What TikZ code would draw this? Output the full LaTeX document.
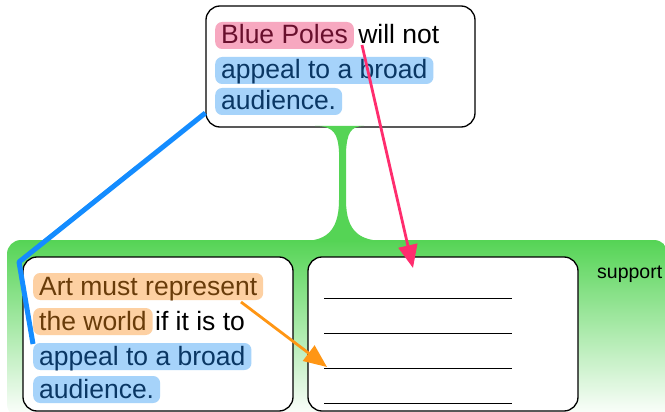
\documentclass[tikz,border=0pt]{standalone}
\usepackage{fontspec}
\setmainfont{Liberation Sans}
\usetikzlibrary{arrows.meta,positioning}

\definecolor{argGreen}{RGB}{85,212,85}
\definecolor{hlPink}{RGB}{247,168,192}
\definecolor{txPink}{RGB}{105,15,45}
\definecolor{hlBlue}{RGB}{166,211,250}
\definecolor{txBlue}{RGB}{10,55,100}
\definecolor{hlOrange}{RGB}{253,208,162}
\definecolor{txOrange}{RGB}{105,60,10}
\definecolor{linkBlue}{RGB}{20,140,255}
\definecolor{arrPink}{RGB}{255,45,110}
\definecolor{arrOrange}{RGB}{255,150,20}

\newcommand{\argfont}{\fontsize{26.5}{32}\selectfont}

\tikzset{
  card/.style={draw=black, line width=1.3pt, fill=white, rounded corners=14pt, inner sep=0pt},
  group/.style={rounded corners=14pt, top color=argGreen, bottom color=white, inner sep=0pt},
  hilite/.style={rounded corners=7pt, inner xsep=6pt, inner ysep=3pt, text height=19pt, text depth=2pt, anchor=base west, font=\argfont},
  hlpink/.style={hilite, fill=hlPink, text=txPink},
  hlblue/.style={hilite, fill=hlBlue, text=txBlue},
  hlorange/.style={hilite, fill=hlOrange, text=txOrange},
  plain/.style={inner sep=0pt, anchor=base west, font=\argfont},
  blank/.style={line width=1pt},
  pointer/.style={line width=2.8pt, -{Triangle[length=23pt,width=19pt]}}
}

\begin{document}
\begin{tikzpicture}[x=1pt,y=-1pt]
  \useasboundingbox (0,0) rectangle (665,412);
  \clip (0,0) rectangle (665,412);

  % green group with its stem
  \node[group, minimum width=661pt, minimum height=178pt] (grp) at (337.5,329) {};
  \node[card, minimum width=269pt, minimum height=121pt] (claim) at (340.5,66.5) {};
  \fill[argGreen] (315,126) .. controls (334,126) and (338,134) .. (339,152)
    -- (339,200) .. controls (339,233) and (324,241) .. (302,241)
    -- (386,241) .. controls (361,241) and (346,233) .. (346,200)
    -- (346,152) .. controls (347,134) and (350,126) .. (364,126) -- cycle;
  \node[font=\fontsize{19.5}{22}\selectfont, inner sep=0pt, anchor=base west] (sup) at (597,278) {support};

  % premises
  \node[card, minimum width=270pt, minimum height=154pt] (reason) at (158,334) {};
  \node[card, minimum width=270pt, minimum height=154pt] (other) at (443,334) {};
  \foreach \y in {298,333,368,403}
    \draw[blank] (324,\y) -- (512,\y);

  % claim text
  \node[hlpink] (bp) at (215,44) {Blue Poles};
  \node[plain] (wn) at ([xshift=4pt]bp.base east) {will not};
  \node[hlblue] (ca) at (215,79) {appeal to a broad};
  \node[hlblue] (cb) at (215,110) {audience.};

  % reason text
  \node[hlorange] (ra) at (33,295) {Art must represent};
  \node[hlorange] (rb) at (33,330) {the world};
  \node[plain] (rc) at ([xshift=2pt]rb.base east) {if it is to};
  \node[hlblue] (rd) at (33,365) {appeal to a broad};
  \node[hlblue] (re) at (33,398) {audience.};

  % links
  \coordinate (linkBend) at (19,262);
  \coordinate (linkEnd) at (33,344);
  \draw[linkBlue, line width=5pt, line join=round] (claim.west |- 0,113) -- (linkBend) -- (linkEnd);
  \coordinate (pinkFrom) at (362,45);
  \coordinate (pinkTo) at (413,268);
  \draw[pointer, arrPink] (pinkFrom) -- (pinkTo);
  \coordinate (orangeFrom) at (241,302);
  \coordinate (orangeTo) at (327,367);
  \draw[pointer, arrOrange] (orangeFrom) -- (orangeTo);
\end{tikzpicture}
\end{document}
